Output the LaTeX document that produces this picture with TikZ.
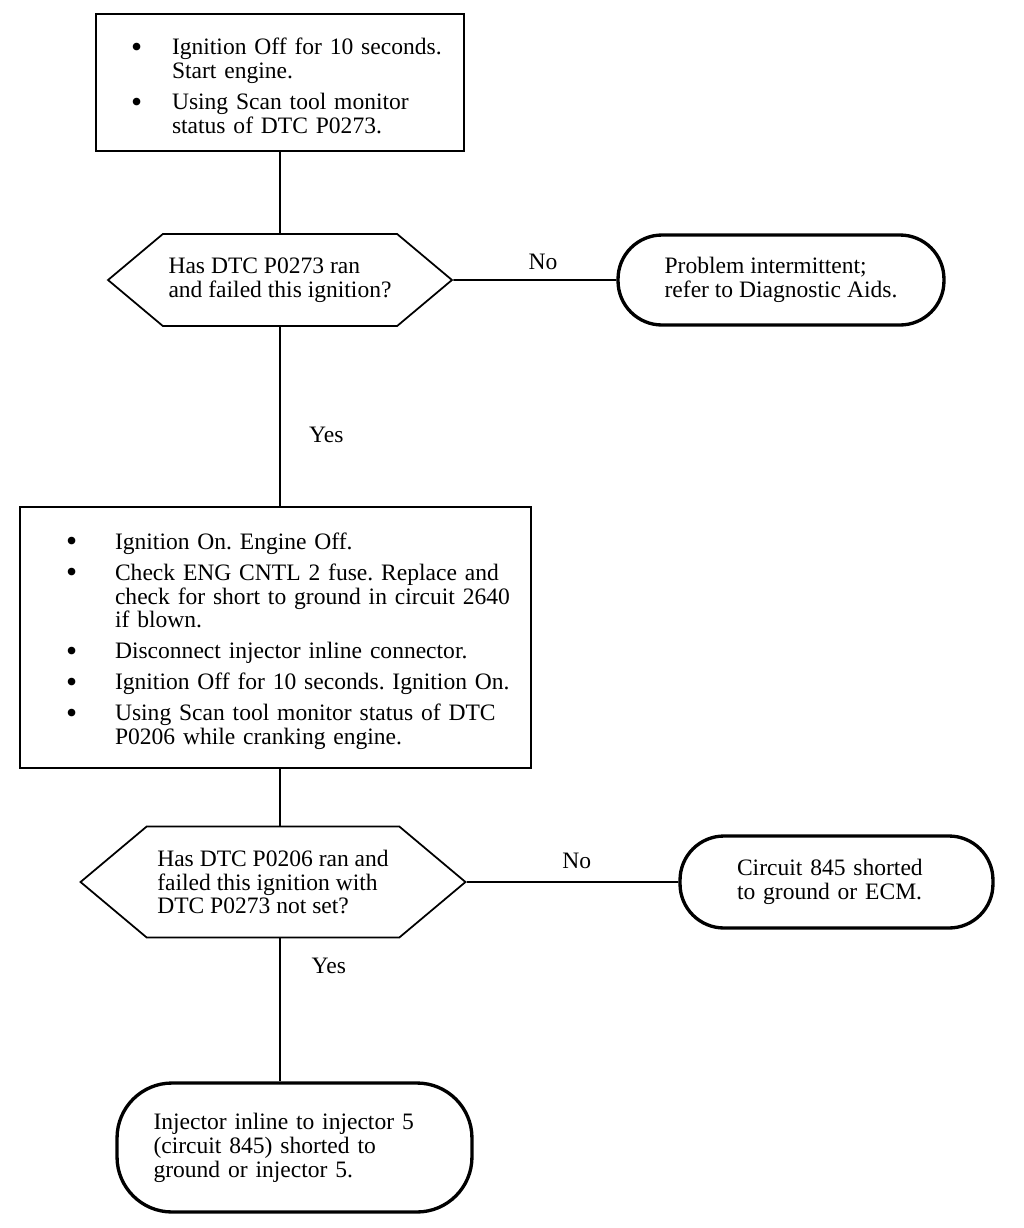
\documentclass[tikz,border=0pt]{standalone}
\usepackage{fontspec}
\setmainfont{Liberation Serif}
\usetikzlibrary{positioning}
\usetikzlibrary{shapes.symbols}
\frenchspacing

\newcommand{\bigdot}{\smash{\raisebox{-1.5pt}{\fontsize{18pt}{13pt}\selectfont\textbullet}}}
\newenvironment{steplist}[2]{%
  \begin{list}{\bigdot}{%
    \setlength{\leftmargin}{#1}\setlength{\labelwidth}{#2}%
    \setlength{\labelsep}{0pt}\setlength{\rightmargin}{-1cm}%
    \setlength{\itemsep}{4pt}\setlength{\parsep}{0pt}%
    \setlength{\topsep}{0pt}\setlength{\partopsep}{0pt}%
    \renewcommand{\makelabel}[1]{##1\hfil}}}%
  {\end{list}}

\begin{document}
\begin{tikzpicture}[x=0.02cm,y=-0.02cm,
		every node/.style={font=\fontsize{13.4pt}{13.6pt}\selectfont},
		stepbox/.style={draw, line width=1pt, inner sep=0pt, align=left},
		query/.style={draw, line width=1pt, shape=signal, signal to=west and east,
			signal pointer angle=80, inner sep=2pt, align=left},
		result/.style={draw, line width=1.9pt, rounded corners=0.88cm, align=left},
		link/.style={line width=1pt}]
		\useasboundingbox (0,0) rectangle (1024,1228);
		\coordinate (spine) at (280,0);
		
		\node[stepbox, minimum width=7.36cm, minimum height=2.74cm, text width=7.36cm] (check1) at (280,82.5) {%
			\begin{steplist}{1.52cm}{0.82cm}
				\item Ignition Off for 10 seconds.\\ Start engine.
				\item Using Scan tool monitor\\ status of DTC P0273.
			\end{steplist}};
		
		\node[query, minimum width=6.88cm, minimum height=1.84cm] (ask1) at (280,280)
			{Has DTC P0273 ran\\ and failed this ignition?};
		\node[result, minimum width=6.52cm, minimum height=1.8cm] (end1) at (781,280)
			{Problem intermittent;\\ refer to Diagnostic Aids.};
		
		\node[stepbox, minimum width=10.22cm, minimum height=5.22cm, text width=10.22cm] (check2) at (275.5,637.5) {%
			\begin{steplist}{1.9cm}{0.98cm}
				\item Ignition On. Engine Off.
				\item Check ENG CNTL 2 fuse. Replace and\\ check for short to ground in circuit 2640\\ if blown.
				\item Disconnect injector inline connector.
				\item Ignition Off for 10 seconds. Ignition On.
				\item Using Scan tool monitor status of DTC\\ P0206 while cranking engine.
			\end{steplist}};
		
		\node[query, minimum width=7.7cm, minimum height=2.22cm] (ask2) at (273,882)
			{Has DTC P0206 ran and\\ failed this ignition with\\ DTC P0273 not set?};
		\node[result, minimum width=6.26cm, minimum height=1.84cm, text width=3.98cm] (end2) at (836.5,882)
			{Circuit 845 shorted\\ to ground or ECM.};
		
		\node[result, rounded corners=1.1cm, minimum width=7.1cm, minimum height=2.58cm, text width=5.64cm] (end3) at (294.5,1147.5)
			{Injector inline to injector 5\\ (circuit 845) shorted to\\ ground or injector 5.};
		
		\draw[link] (check1) -- (ask1);
		\draw[link] (ask1) -- node[pos=0.55, above=2pt] {No} (end1);
		\draw[link] (ask1.south) -- node[pos=0.6, right=0.45cm] {Yes} (spine |- check2.north);
		\draw[link] (spine |- check2.south) -- (spine |- ask2.north);
		\draw[link] (ask2) -- node[pos=0.52, above=4pt] {No} (end2);
		\draw[link] (spine |- ask2.south) -- node[pos=0.19, right=0.5cm] {Yes} (spine |- end3.north);
	\end{tikzpicture}
\end{document}
